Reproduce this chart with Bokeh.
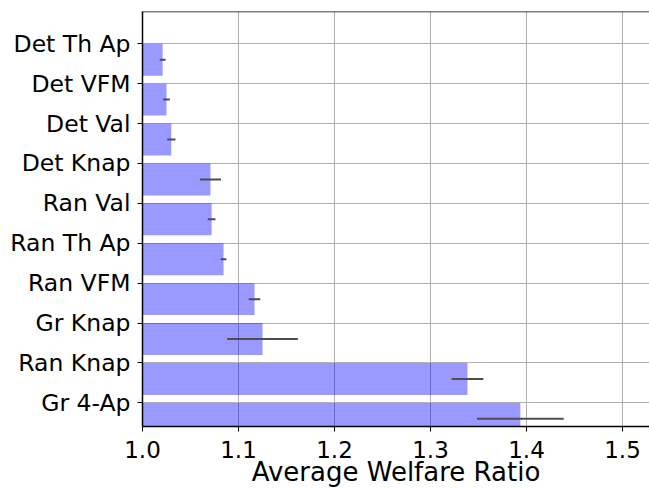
from bokeh.plotting import figure
from bokeh.models import Range1d, FixedTicker, Span, ColumnDataSource
from bokeh.embed import file_html
from bokeh.resources import INLINE

names = ["Det Th Ap", "Det VFM", "Det Val", "Det Knap", "Ran Val",
         "Ran Th Ap", "Ran VFM", "Gr Knap", "Ran Knap", "Gr 4-Ap"]
means = [1.021, 1.025, 1.030, 1.0708, 1.072, 1.0844, 1.1167, 1.125, 1.3385, 1.3936]
errs = [0.003, 0.0035, 0.0043, 0.011, 0.004, 0.003, 0.006, 0.0368, 0.0165, 0.0452]
x_ticks = [1.0, 1.1, 1.2, 1.3, 1.4, 1.5]
x_label = "Average Welfare Ratio"

pos = list(range(len(names)))
src = ColumnDataSource(dict(
    y=[k + 0.4 for k in pos],
    right=means,
    lo=[m - e for m, e in zip(means, errs)],
    hi=[m + e for m, e in zip(means, errs)],
))

FONT = "DejaVu Sans"

p = figure(width=649, height=489, output_backend="svg", toolbar_location=None,
           x_range=Range1d(1.0, 1.5281), y_range=Range1d(9.592, -0.808),
           min_border_left=142, min_border_right=0, min_border_top=11,
           min_border_bottom=62)
p.outline_line_color = None
p.background_fill_color = "white"
p.border_fill_color = "white"

p.hbar(y="y", height=0.8, left=0, right="right", source=src,
       fill_color="blue", fill_alpha=0.4, line_color=None)
p.segment(x0="lo", x1="hi", y0="y", y1="y", source=src,
          line_color="#4d4d4d", line_width=2)

for g in (p.xgrid, p.ygrid):
    g.grid_line_color = "#b0b0b0"
    g.grid_line_width = 1

p.xaxis.ticker = FixedTicker(ticks=x_ticks)
p.xaxis.major_label_overrides = {t: f"{t:.1f}" for t in x_ticks}
p.yaxis.ticker = FixedTicker(ticks=pos)
p.yaxis.major_label_overrides = {k: n for k, n in zip(pos, names)}

for ax in (p.xaxis, p.yaxis):
    ax.axis_line_color = "black"
    ax.axis_line_width = 1.5
    ax.major_tick_line_color = "black"
    ax.major_tick_line_width = 1
    ax.major_tick_out = 5
    ax.major_tick_in = 0
    ax.minor_tick_line_color = None
    ax.major_label_text_font = FONT
    ax.major_label_text_font_size = "23px"
    ax.major_label_text_color = "black"
p.yaxis.major_label_text_font_size = "23.5px"
p.yaxis.major_label_standoff = 7
p.xaxis.major_label_standoff = 9

p.xaxis.axis_label = x_label
p.xaxis.axis_label_text_font = FONT
p.xaxis.axis_label_text_font_size = "26px"
p.xaxis.axis_label_text_font_style = "normal"
p.xaxis.axis_label_text_color = "black"
p.xaxis.axis_label_standoff = -4

p.add_layout(Span(location=-0.808, dimension="width", line_color="black", line_width=1.5))

open("out.html", "w").write(file_html(p, INLINE))
